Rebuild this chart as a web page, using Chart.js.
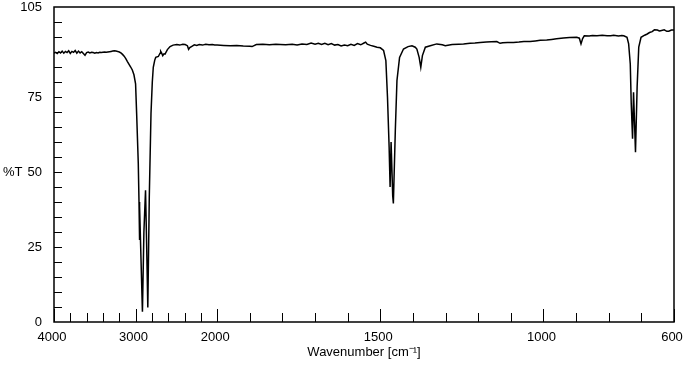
<!DOCTYPE html>
<html>
<head>
<meta charset="utf-8">
<script src="https://cdn.jsdelivr.net/npm/chart.js@4.4.1/dist/chart.umd.min.js"></script>
<style>
    html, body { margin: 0; padding: 0; background: #fff; }
    #wrap { width: 683px; height: 375px; }
</style>
</head>
<body>
<div id="wrap"><canvas id="spectrum" width="683" height="375"></canvas></div>
<script>
// spectrum (wavenumber in cm-1, transmittance in %)
const wavenumbers = [
    4000, 3980, 3960, 3940, 3920, 3900, 3880, 3860, 3840, 3820,
    3800, 3780, 3760, 3740, 3720, 3700, 3680, 3660, 3640, 3620,
    3600, 3580, 3560, 3540, 3520, 3500, 3480, 3460, 3440, 3420,
    3400, 3380, 3360, 3340, 3320, 3300, 3280, 3260, 3240, 3220,
    3200, 3180, 3160, 3140, 3120, 3100, 3080, 3060, 3040, 3020,
    3000, 2987, 2967, 2958, 2953, 2949, 2916, 2898, 2878, 2866,
    2850, 2840, 2832, 2811, 2795, 2783, 2765, 2753, 2721, 2700,
    2692, 2680, 2667, 2652, 2639, 2610, 2577, 2540, 2495, 2460,
    2420, 2393, 2365, 2350, 2335, 2310, 2280, 2250, 2220, 2180,
    2140, 2100, 2060, 2030,
    2000, 1980, 1960, 1940, 1920, 1900, 1893, 1880, 1860, 1840,
    1820, 1807, 1790, 1770, 1755, 1740, 1725, 1712, 1700, 1690,
    1680, 1670, 1660, 1650, 1640, 1630, 1620, 1610, 1600, 1590,
    1580, 1570, 1560, 1550, 1545, 1540, 1530, 1520, 1510, 1500,
    1490, 1483, 1478, 1473, 1470, 1467, 1462, 1460, 1454, 1449,
    1441, 1429, 1415, 1403, 1393, 1388, 1381, 1376, 1371, 1362,
    1347, 1327, 1310, 1301, 1280, 1260, 1245, 1225, 1210, 1194,
    1175, 1160, 1143, 1133, 1125, 1110, 1092, 1075, 1060, 1041,
    1025, 1010, 990, 975, 960, 939, 920, 898, 890, 885,
    880, 875, 860, 850, 836, 820, 805, 794, 785, 770,
    760, 754, 744, 739, 734, 731, 727, 724, 718, 713,
    708, 701, 690, 682, 675, 667, 660, 651, 645, 641,
    630, 622, 616, 608, 600
];
const transmittance = [
    89.6, 89.9, 89.5, 90.1, 89.7, 90.3, 89.6, 90.2, 89.8, 90.4,
    89.5, 90.2, 89.9, 90.5, 89.6, 90.3, 89.7, 90.1, 89.5, 88.9,
    89.8, 90.0, 89.7, 89.9, 89.8, 89.6, 89.8, 89.7, 89.9, 89.8,
    89.9, 90.0, 89.9, 90.0, 90.1, 90.2, 90.3, 90.4, 90.3, 90.2,
    90.0, 89.7, 89.2, 88.6, 87.8, 86.8, 85.9, 85.0, 84.0, 82.4,
    79.4, 69.5, 53.0, 40.0, 27.3, 38.5, 3.4, 30.0, 43.9, 28.0,
    4.8, 25.0, 41.7, 69.5, 80.0, 84.9, 87.3, 88.2, 88.5, 89.6,
    90.2, 89.6, 88.8, 89.4, 89.3, 90.8, 91.8, 92.3, 92.5, 92.3,
    92.6, 92.5, 92.1, 90.9, 91.5, 91.9, 92.4, 92.2, 92.5, 92.3,
    92.6, 92.4, 92.5, 92.3,
    92.3, 92.2, 92.1, 92.2, 92.0, 91.9, 91.8, 92.5, 92.6, 92.4,
    92.6, 92.5, 92.4, 92.6, 92.3, 92.7, 92.5, 93.0, 92.6, 92.9,
    92.5, 92.9, 92.4, 92.8, 92.3, 92.5, 92.0, 92.3, 92.1, 92.6,
    92.2, 92.8, 92.4, 93.0, 93.3, 92.6, 92.2, 91.9, 91.6, 91.4,
    90.5, 87.1, 74.9, 58.3, 45.0, 60.0, 42.0, 39.5, 63.9, 80.5,
    88.2, 91.0, 91.8, 92.1, 91.6, 91.0, 88.2, 84.9, 88.8, 91.6,
    92.1, 92.7, 92.4, 92.1, 92.5, 92.6, 92.7, 92.9, 93.0, 93.2,
    93.3, 93.4, 93.5, 92.9, 93.1, 93.2, 93.2, 93.3, 93.5, 93.5,
    93.7, 93.9, 94.0, 94.2, 94.4, 94.7, 94.8, 94.9, 94.6, 92.7,
    94.5, 95.4, 95.3, 95.5, 95.4, 95.6, 95.4, 95.4, 95.6, 95.3,
    95.5, 95.4, 94.9, 92.7, 86.0, 72.7, 61.1, 76.6, 56.6, 78.3,
    91.6, 94.9, 95.6, 96.0, 96.5, 96.8, 97.4, 97.3, 97.0, 97.1,
    97.4, 96.9, 96.9, 97.3, 97.3
];

const xLabelTicks = [4000, 3000, 2000, 1500, 1000, 600];
const xMinorTicks = [3800, 3600, 3400, 3200, 2800, 2600, 2400, 2200,
    1900, 1800, 1700, 1600, 1400, 1300, 1200, 1100, 900, 800, 700];
const yLabelTicks = [0, 25, 50, 75, 105];
const yMinorTicks = [5, 10, 15, 20, 25, 30, 35, 40, 45, 50, 55, 60, 65, 70, 75, 80, 85, 90, 95, 100];

const FONT = "'Liberation Sans', Arial, sans-serif";

// 4000-2000 is drawn at a quarter of the scale of 2000-600
class WavenumberScale extends Chart.LinearScale {
    getPixelForValue(value) {
        const u = value >= 2000 ? (4000 - value) / 4 : 500 + (2000 - value);
        return this.left + this.width * u / 1900;
    }
    getValueForPixel(pixel) {
        const u = (pixel - this.left) / this.width * 1900;
        return u <= 500 ? 4000 - u * 4 : 2000 - (u - 500);
    }
}
WavenumberScale.id = 'wavenumber';
WavenumberScale.defaults = {};
Chart.register(WavenumberScale);

const framePlugin = {
    id: 'frame',
    beforeDatasetsDraw(chart) {
        const {ctx, chartArea: a, scales: {x, y}} = chart;
        ctx.save();
        ctx.strokeStyle = '#000';
        ctx.lineWidth = 1;
        ctx.beginPath();
        xMinorTicks.concat(xLabelTicks).forEach(w => {
            const px = Math.round(x.getPixelForValue(w)) + 0.5;
            const len = xLabelTicks.includes(w) ? 13 : 9;
            ctx.moveTo(px, a.bottom);
            ctx.lineTo(px, a.bottom - len);
        });
        yMinorTicks.forEach(t => {
            const py = Math.round(y.getPixelForValue(t)) + 0.5;
            ctx.moveTo(a.left, py);
            ctx.lineTo(a.left + 8, py);
        });
        ctx.stroke();

        ctx.lineWidth = 1.5;
        ctx.strokeRect(a.left, a.top, a.right - a.left, a.bottom - a.top);

        ctx.fillStyle = '#000';
        ctx.font = '13px ' + FONT;
        ctx.textAlign = 'left';
        ctx.textBaseline = 'middle';
        ctx.fillText('%T', 3, y.getPixelForValue(50));
        ctx.restore();
    }
};

const ctx = document.getElementById('spectrum');

new Chart(ctx, {
    type: 'line',
    data: {
        datasets: [{
            data: wavenumbers.map((w, i) => ({x: w, y: transmittance[i]})),
            borderColor: '#000',
            borderWidth: 1.5,
            pointRadius: 0,
            tension: 0,
            fill: false
        }]
    },
    options: {
        responsive: false,
        animation: false,
        devicePixelRatio: 1,
        events: [],
        layout: {
            padding: {left: 0, right: 9, top: 7, bottom: 0}
        },
        plugins: {
            legend: {display: false},
            tooltip: {enabled: false}
        },
        scales: {
            x: {
                type: 'wavenumber',
                min: 600,
                max: 4000,
                grid: {display: false, drawTicks: false},
                border: {display: false},
                afterBuildTicks: s => { s.ticks = xLabelTicks.map(v => ({value: v})); },
                afterFit: s => {
                    s.height = 53;
                    s.paddingLeft = 0; s.paddingRight = 0;
                },
                ticks: {
                    autoSkip: false,
                    maxRotation: 0,
                    padding: 8,
                    labelOffset: -2,
                    color: '#000',
                    font: {family: FONT, size: 13},
                    callback: v => String(v)
                },
                title: {
                    display: true,
                    text: 'Wavenumber [cm\u207B\u00B9]',
                    color: '#000',
                    font: {family: FONT, size: 13},
                    padding: {top: 0, bottom: 15}
                }
            },
            y: {
                min: 0,
                max: 105,
                grid: {display: false, drawTicks: false},
                border: {display: false},
                afterBuildTicks: s => { s.ticks = yLabelTicks.map(v => ({value: v})); },
                afterFit: s => {
                    s.width = 54;
                    s.paddingTop = 0; s.paddingBottom = 0;
                },
                ticks: {
                    padding: 12,
                    color: '#000',
                    font: {family: FONT, size: 13},
                    callback: v => String(v)
                }
            }
        }
    },
    plugins: [framePlugin]
});
</script>
</body>
</html>
